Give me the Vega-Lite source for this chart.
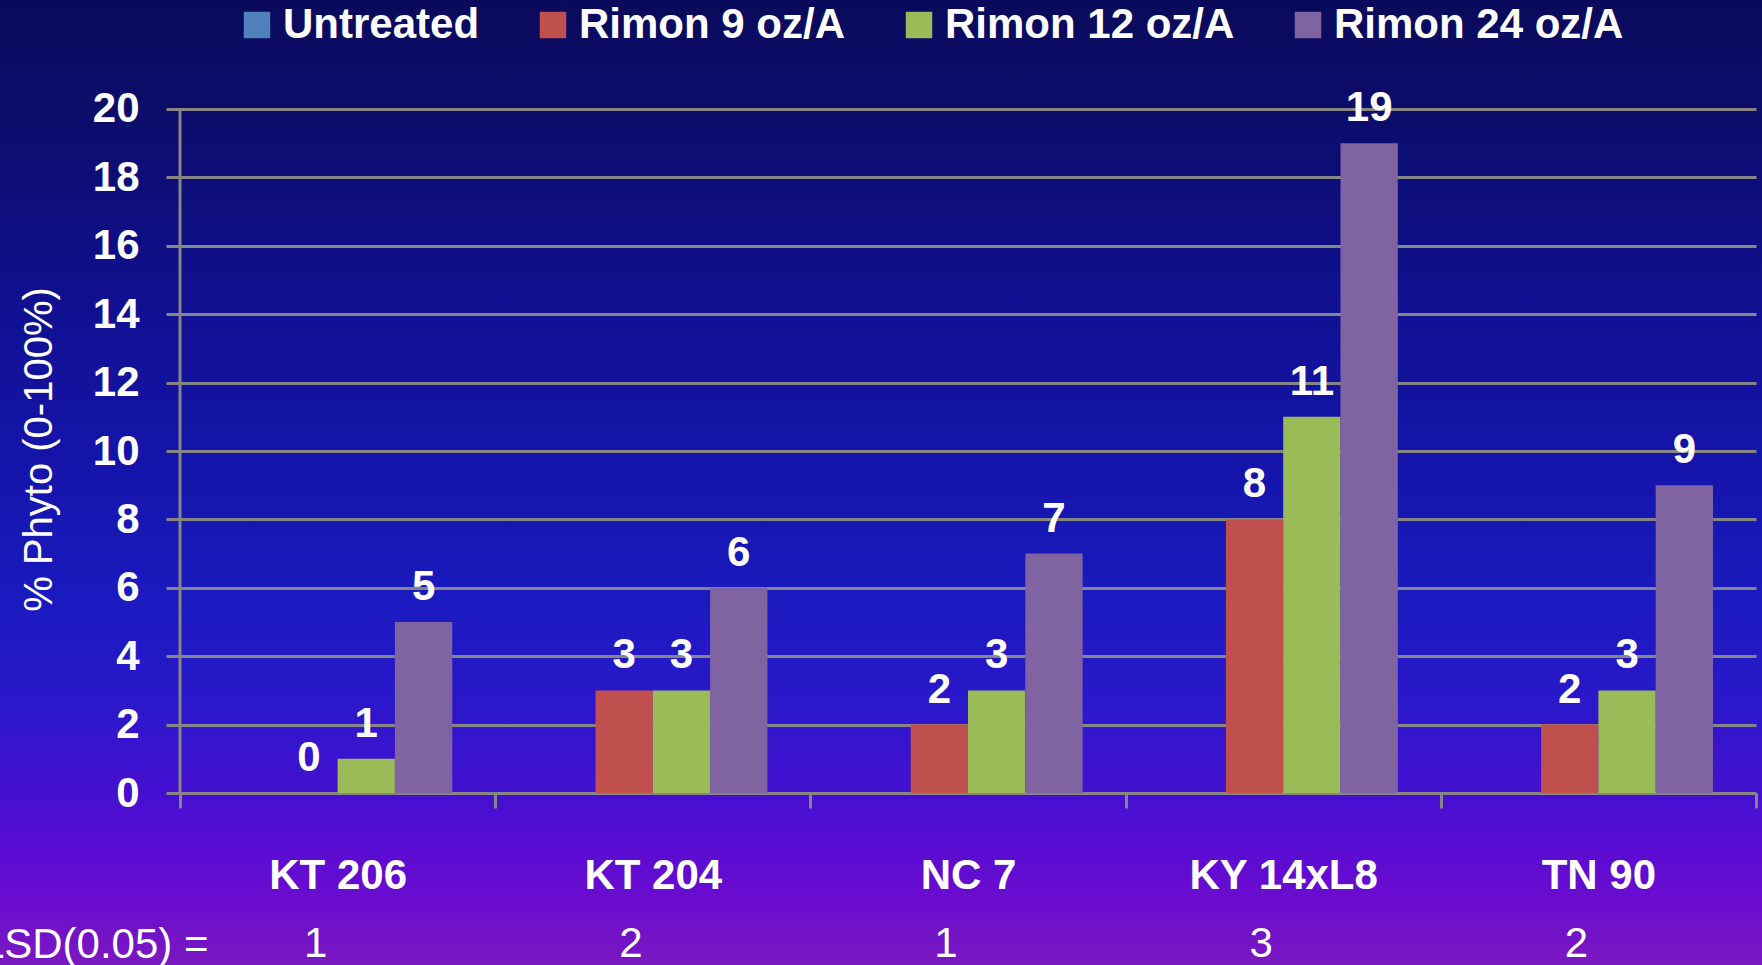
{
  "$schema": "https://vega.github.io/schema/vega-lite/v6.json",
  "width": 1762,
  "height": 965,
  "autosize": {"type": "none"},
  "padding": {"left": 0, "top": 0, "right": 0, "bottom": 0},
  "background": "#1c16ac",
  "view": {
    "stroke": null,
    "fill": {
      "gradient": "linear", "x1": 0, "y1": 0, "x2": 0, "y2": 1,
      "stops": [
        {"offset": 0, "color": "#0a0a5c"},
        {"offset": 0.113, "color": "#0c0c6a"},
        {"offset": 0.31, "color": "#101090"},
        {"offset": 0.466, "color": "#1414a8"},
        {"offset": 0.62, "color": "#1a1abf"},
        {"offset": 0.725, "color": "#2a18ca"},
        {"offset": 0.82, "color": "#4410d0"},
        {"offset": 0.88, "color": "#5a0cd2"},
        {"offset": 0.93, "color": "#6a0cd0"},
        {"offset": 1, "color": "#7a18c0"}
      ]
    }
  },
  "datasets": {
    "phyto": [
      {"variety": "KT 206", "treatment": "Untreated", "value": 0},
      {"variety": "KT 206", "treatment": "Rimon 9 oz/A", "value": 0},
      {"variety": "KT 206", "treatment": "Rimon 12 oz/A", "value": 1},
      {"variety": "KT 206", "treatment": "Rimon 24 oz/A", "value": 5},
      {"variety": "KT 204", "treatment": "Untreated", "value": 0},
      {"variety": "KT 204", "treatment": "Rimon 9 oz/A", "value": 3},
      {"variety": "KT 204", "treatment": "Rimon 12 oz/A", "value": 3},
      {"variety": "KT 204", "treatment": "Rimon 24 oz/A", "value": 6},
      {"variety": "NC 7", "treatment": "Untreated", "value": 0},
      {"variety": "NC 7", "treatment": "Rimon 9 oz/A", "value": 2},
      {"variety": "NC 7", "treatment": "Rimon 12 oz/A", "value": 3},
      {"variety": "NC 7", "treatment": "Rimon 24 oz/A", "value": 7},
      {"variety": "KY 14xL8", "treatment": "Untreated", "value": 0},
      {"variety": "KY 14xL8", "treatment": "Rimon 9 oz/A", "value": 8},
      {"variety": "KY 14xL8", "treatment": "Rimon 12 oz/A", "value": 11},
      {"variety": "KY 14xL8", "treatment": "Rimon 24 oz/A", "value": 19},
      {"variety": "TN 90", "treatment": "Untreated", "value": 0},
      {"variety": "TN 90", "treatment": "Rimon 9 oz/A", "value": 2},
      {"variety": "TN 90", "treatment": "Rimon 12 oz/A", "value": 3},
      {"variety": "TN 90", "treatment": "Rimon 24 oz/A", "value": 9}
    ],
    "lsd": [
      {"variety": "KT 206", "lsd": 1},
      {"variety": "KT 204", "lsd": 2},
      {"variety": "NC 7", "lsd": 1},
      {"variety": "KY 14xL8", "lsd": 3},
      {"variety": "TN 90", "lsd": 2}
    ]
  },
  "layer": [
    {
      "data": {"name": "phyto"},
      "mark": {"type": "bar"},
      "encoding": {
        "x": {
          "field": "variety", "type": "nominal",
          "scale": {"domain": ["KT 206", "KT 204", "NC 7", "KY 14xL8", "TN 90"], "paddingInner": 0, "paddingOuter": 0.2951, "align": 0.9677},
          "axis": {
            "title": "LSD(0.05) =",
            "offset": -172,
            "titleX": 208, "titleY": 164, "titleAlign": "right", "titleBaseline": "alphabetic", "titleAngle": 0,
            "titleFont": "Liberation Sans", "titleFontSize": 42, "titleFontWeight": "normal", "titleColor": "#ffffff",
            "labelAngle": 0, "labelFont": "Liberation Sans", "labelFontSize": 42, "labelFontWeight": "bold",
            "labelColor": "#ffffff", "labelPadding": 47, "labelLimit": 400,
            "tickBand": "extent", "tickSize": 15, "tickWidth": 3, "tickColor": "#868686",
            "domain": false, "grid": false
          }
        },
        "xOffset": {
          "field": "treatment", "type": "nominal",
          "scale": {"domain": ["Untreated", "Rimon 9 oz/A", "Rimon 12 oz/A", "Rimon 24 oz/A"], "paddingInner": 0, "paddingOuter": 0.75}
        },
        "y": {
          "field": "value", "type": "quantitative",
          "scale": {"domain": [-5.029, 23.187], "nice": false, "zero": false},
          "axis": {
            "title": "% Phyto (0-100%)",
            "values": [0, 2, 4, 6, 8, 10, 12, 14, 16, 18, 20],
            "offset": -166,
            "domain": false,
            "titleAngle": -90, "titleX": -127, "titleY": 449, "titleAlign": "center", "titleBaseline": "middle",
            "titleFont": "Liberation Sans", "titleFontSize": 40, "titleFontWeight": "normal", "titleColor": "#ffffff",
            "labelFont": "Liberation Sans", "labelFontSize": 42, "labelFontWeight": "bold", "labelColor": "#ffffff",
            "labelPadding": 1617, "labelBaseline": "middle",
            "tickSize": -1590, "tickWidth": 3, "tickColor": "#868686",
            "grid": false
          }
        },
        "color": {
          "field": "treatment", "type": "nominal",
          "scale": {
            "domain": ["Untreated", "Rimon 9 oz/A", "Rimon 12 oz/A", "Rimon 24 oz/A"],
            "range": ["#4F81BD", "#C0504D", "#9BBB59", "#8064A2"]
          },
          "legend": {
            "orient": "none", "legendX": 236, "legendY": 4, "direction": "horizontal",
            "title": null, "padding": 0,
            "symbolType": "square", "symbolSize": 700, "symbolStrokeWidth": 0,
            "labelFont": "Liberation Sans", "labelFontSize": 42, "labelFontWeight": "bold", "labelColor": "#ffffff",
            "labelOffset": 5, "columnPadding": 52, "labelLimit": 0
          }
        }
      }
    },
    {
      "data": {"name": "lsd"},
      "mark": {"type": "rule", "color": "#868686", "strokeWidth": 3},
      "transform": [{"filter": "datum.variety == 'KT 206'"}],
      "encoding": {
        "x": {"field": "variety", "type": "nominal", "bandPosition": 0},
        "y": {"datum": 20, "type": "quantitative"},
        "y2": {"datum": 0}
      }
    },
    {
      "data": {"name": "phyto"},
      "transform": [{"filter": "datum.treatment != 'Untreated'"}],
      "mark": {"type": "text", "font": "Liberation Sans", "fontSize": 42, "fontWeight": "bold", "color": "#ffffff", "baseline": "alphabetic", "dy": -22},
      "encoding": {
        "x": {"field": "variety", "type": "nominal"},
        "xOffset": {"field": "treatment", "type": "nominal"},
        "y": {"field": "value", "type": "quantitative"},
        "text": {"field": "value", "type": "quantitative"}
      }
    },
    {
      "data": {"name": "lsd"},
      "mark": {"type": "text", "font": "Liberation Sans", "fontSize": 42, "fontWeight": "normal", "color": "#ffffff", "baseline": "alphabetic", "dy": 164, "dx": -22},
      "encoding": {
        "x": {"field": "variety", "type": "nominal"},
        "y": {"datum": 0, "type": "quantitative"},
        "text": {"field": "lsd", "type": "quantitative"}
      }
    }
  ]
}
